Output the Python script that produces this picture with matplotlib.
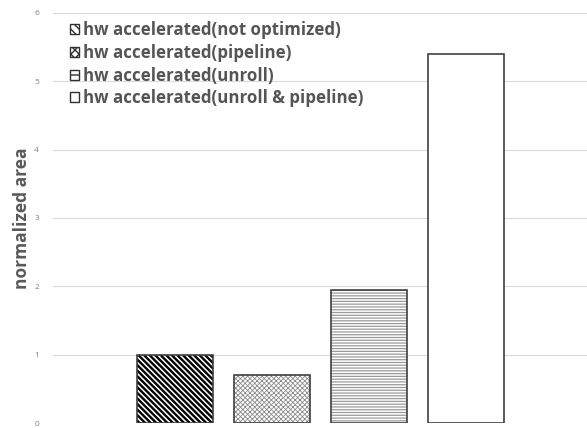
import matplotlib.pyplot as plt
from matplotlib.patches import Patch

labels = ['hw accelerated(not optimized)', 'hw accelerated(pipeline)',
          'hw accelerated(unroll)', 'hw accelerated(unroll & pipeline)']
values = [1.0, 0.70, 1.95, 5.40]
hatches = ['\\\\\\\\\\\\', 'xxxxxxx', '------', '']
legend_hatches = ['\\\\\\\\', 'xxxx', '-', '']
hatch_colors = ['black', '#8c8c8c', '#9a9a9a', 'black']
hatch_widths = [1.7, 0.6, 0.9, 1.0]

plt.rcParams['font.family'] = ['Open Sans', 'DejaVu Sans']

fig = plt.figure(figsize=(5.87, 4.28), dpi=100)
ax = fig.add_axes([53 / 587, 5 / 428, 534 / 587, 410 / 428])

handles = []
for i, (v, h, lh, hc, hw) in enumerate(zip(values, hatches, legend_hatches,
                                           hatch_colors, hatch_widths)):
    with plt.rc_context({'hatch.linewidth': hw}):
        ax.bar(i, v, width=0.79, facecolor='white', edgecolor=hc, hatch=h,
               linewidth=0, zorder=2)
    with plt.rc_context({'hatch.linewidth': 0.8}):
        handles.append(Patch(facecolor='white', edgecolor='#303030', hatch=lh,
                             linewidth=1.0))
    ax.bar(i, v, width=0.79, facecolor='none', edgecolor='#404040',
           linewidth=1.2, zorder=3)

ax.set_xlim(-1.26, 4.25)
ax.set_ylim(0, 6)
ax.set_yticks(range(7))
ax.set_xticks([])
ax.tick_params(axis='y', length=0, labelsize=6, labelcolor='#808080', pad=10)
ax.grid(axis='y', color='#d9d9d9', linewidth=0.8, zorder=0)
for s in ax.spines.values():
    s.set_visible(False)

ax.set_ylabel('normalized area', fontsize=12.5, fontweight='bold', color='#595959', labelpad=2)

leg = ax.legend(handles, labels, loc='upper left', bbox_to_anchor=(0.012, 1.005),
                frameon=False, fontsize=12.2, handlelength=0.55, handleheight=0.55,
                handletextpad=0.25, labelspacing=0.28, borderaxespad=0.2)
for t in leg.get_texts():
    t.set_color('#555555')
    t.set_fontweight('bold')

fig.savefig('out.png', dpi=100)
